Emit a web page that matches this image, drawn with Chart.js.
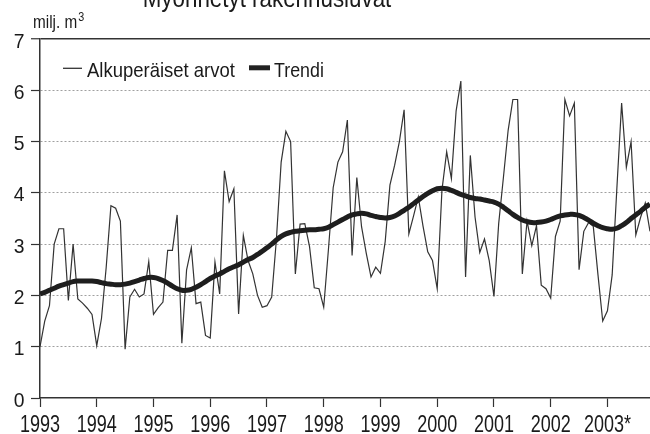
<!DOCTYPE html>
<html>
<head>
<meta charset="utf-8">
<script src="https://cdn.jsdelivr.net/npm/chart.js@4.4.1/dist/chart.umd.min.js"></script>
<style>
    html, body { margin: 0; padding: 0; background: #fff; }
    #wrap { width: 650px; height: 434px; }
</style>
</head>
<body>
<div id="wrap"><canvas id="lupaChart" width="650" height="434"></canvas></div>
<script>
const FONT = "'Liberation Sans', Arial, Helvetica, sans-serif";

// texts
const chartTitle = 'Myönnetyt rakennusluvat';
const unitLabel = 'milj. m';
const unitSup = '3';
const seriesNames = ['Alkuperäiset arvot', 'Trendi'];

// x axis: one label per year, data is monthly from Jan 1993
const yearLabels = ['1993', '1994', '1995', '1996', '1997', '1998', '1999', '2000', '2001', '2002', '2003*'];
const yTicks = [0, 1, 2, 3, 4, 5, 6, 7];

// monthly values, milj. m3
const originalValues = [
    1.0, 1.5, 1.8, 3.0, 3.3, 3.3, 1.9, 3.0, 1.93, 1.85, 1.75, 1.63,      // 1993
    1.02, 1.55, 2.55, 3.75, 3.7, 3.45, 0.95, 1.97, 2.12, 1.97, 2.03, 2.66, // 1994
    1.63, 1.76, 1.87, 2.88, 2.88, 3.57, 1.07, 2.5, 2.93, 1.84, 1.87, 1.22, // 1995
    1.17, 2.65, 2.03, 4.43, 3.83, 4.08, 1.64, 3.17, 2.68, 2.42, 2.0, 1.77, // 1996
    1.8, 1.97, 3.1, 4.6, 5.2, 5.0, 2.42, 3.39, 3.4, 2.95, 2.15, 2.13,      // 1997
    1.77, 2.9, 4.1, 4.6, 4.8, 5.42, 2.78, 4.3, 3.34, 2.82, 2.36, 2.55,     // 1998
    2.43, 3.05, 4.15, 4.54, 5.0, 5.62, 3.2, 3.55, 3.92, 3.35, 2.85, 2.68,  // 1999
    2.13, 4.05, 4.8, 4.28, 5.6, 6.18, 2.36, 4.73, 3.53, 2.84, 3.1, 2.68,   // 2000
    1.98, 3.4, 4.3, 5.22, 5.82, 5.82, 2.42, 3.45, 2.97, 3.36, 2.2, 2.13,   // 2001
    1.95, 3.15, 3.45, 5.82, 5.5, 5.75, 2.5, 3.25, 3.42, 3.35, 2.4, 1.5,    // 2002
    1.7, 2.4, 4.1, 5.75, 4.5, 5.0, 3.18, 3.52, 3.8, 3.25                   // 2003
];

const trendValues = [
    2.03, 2.06, 2.10, 2.14, 2.18, 2.21, 2.24, 2.27, 2.28, 2.28, 2.28, 2.28, // 1993
    2.27, 2.25, 2.23, 2.22, 2.21, 2.21, 2.22, 2.24, 2.27, 2.30, 2.33, 2.35, // 1994
    2.35, 2.33, 2.29, 2.24, 2.18, 2.13, 2.10, 2.10, 2.12, 2.16, 2.21, 2.27, // 1995
    2.33, 2.38, 2.42, 2.47, 2.52, 2.56, 2.60, 2.65, 2.70, 2.74, 2.80, 2.86, // 1996
    2.93, 3.00, 3.08, 3.15, 3.20, 3.23, 3.25, 3.26, 3.27, 3.28, 3.28, 3.29, // 1997
    3.30, 3.33, 3.38, 3.43, 3.48, 3.53, 3.57, 3.59, 3.60, 3.59, 3.56, 3.54, // 1998
    3.52, 3.51, 3.52, 3.55, 3.60, 3.66, 3.72, 3.79, 3.86, 3.93, 3.99, 4.04, // 1999
    4.08, 4.09, 4.08, 4.05, 4.01, 3.97, 3.94, 3.91, 3.89, 3.88, 3.86, 3.84, // 2000
    3.82, 3.78, 3.72, 3.65, 3.58, 3.52, 3.47, 3.44, 3.42, 3.42, 3.43, 3.45, // 2001
    3.48, 3.52, 3.55, 3.57, 3.58, 3.58, 3.56, 3.52, 3.47, 3.41, 3.36, 3.32, // 2002
    3.30, 3.29, 3.31, 3.36, 3.42, 3.50, 3.57, 3.64, 3.72, 3.78              // 2003
];

const toPoints = arr => arr.map((v, i) => ({x: i, y: v}));

// the print uses a narrow face, so squeeze the text sideways
function narrowText(ctx, text, x, y, sx, align) {
    ctx.save();
    ctx.translate(x, y);
    ctx.scale(sx, 1);
    ctx.textAlign = align;
    ctx.fillText(text, 0, 0);
    ctx.restore();
}

// title (cut at top), unit label, tick labels and the legend inside the plot
const overlayText = {
    id: 'overlayText',
    afterDraw(chart) {
        const ctx = chart.ctx;
        const xs = chart.scales.x;
        const ys = chart.scales.y;
        ctx.save();
        ctx.fillStyle = '#1a1a1a';
        ctx.textBaseline = 'alphabetic';

        ctx.font = '26px ' + FONT;
        narrowText(ctx, chartTitle, 267, 7, 0.86, 'center');

        ctx.font = '18px ' + FONT;
        narrowText(ctx, unitLabel, 33, 28, 0.85, 'left');
        const w = ctx.measureText(unitLabel).width * 0.85;
        ctx.font = '12px ' + FONT;
        narrowText(ctx, unitSup, 33 + w + 1, 21, 0.9, 'left');

        // tick labels
        ctx.font = '24px ' + FONT;
        yearLabels.forEach((lab, i) => {
            narrowText(ctx, lab, xs.getPixelForValue(i * 12), 432, 0.75, 'center');
        });
        ctx.font = '21px ' + FONT;
        yTicks.forEach(v => {
            narrowText(ctx, String(v), 24.5, ys.getPixelForValue(v) + 8.5, 0.92, 'right');
        });

        // legend
        ctx.strokeStyle = '#333';
        ctx.lineWidth = 1.3;
        ctx.beginPath();
        ctx.moveTo(63, 68.3);
        ctx.lineTo(82, 68.3);
        ctx.stroke();
        ctx.lineWidth = 5;
        ctx.strokeStyle = '#222';
        ctx.beginPath();
        ctx.moveTo(249, 67.8);
        ctx.lineTo(270, 67.8);
        ctx.stroke();

        ctx.font = '21px ' + FONT;
        narrowText(ctx, seriesNames[0], 87, 76.5, 0.88, 'left');
        narrowText(ctx, seriesNames[1], 274, 76.5, 0.85, 'left');
        ctx.restore();
    }
};

new Chart(document.getElementById('lupaChart'), {
    type: 'line',
    data: {
        datasets: [{
            label: seriesNames[0],
            data: toPoints(originalValues),
            borderColor: '#333',
            borderWidth: 1.2,
            pointRadius: 0,
            tension: 0,
            order: 2
        }, {
            label: seriesNames[1],
            data: toPoints(trendValues),
            borderColor: '#1e1e1e',
            borderWidth: 5,
            pointRadius: 0,
            tension: 0.4,
            order: 1
        }]
    },
    options: {
        responsive: false,
        animation: false,
        devicePixelRatio: 1,
        layout: {padding: {top: 39, right: 0, left: 0, bottom: 0}},
        plugins: {
            legend: {display: false},
            tooltip: {enabled: false}
        },
        scales: {
            x: {
                type: 'linear',
                min: 0,
                max: 129,
                afterBuildTicks: s => { s.ticks = yearLabels.map((_, i) => ({value: i * 12})); },
                afterFit: s => { s.height = 36; },
                ticks: {display: false, autoSkip: false, maxRotation: 0},
                grid: {drawOnChartArea: false, tickLength: 9, tickColor: '#333', tickWidth: 1.2},
                border: {color: '#333', width: 1.5}
            },
            y: {
                min: 0,
                max: 7,
                afterBuildTicks: s => { s.ticks = yTicks.map(v => ({value: v})); },
                afterFit: s => { s.width = 40; },
                ticks: {display: false},
                grid: {
                    color: c => c.tick.value === 7 ? '#333' : (c.tick.value === 0 ? 'rgba(0,0,0,0)' : '#a0a0a0'),
                    lineWidth: c => c.tick.value === 7 ? 1.5 : 1,
                    tickLength: 9,
                    tickColor: '#333',
                    tickWidth: 1.2
                },
                border: {
                    color: '#333',
                    width: 1.5,
                    dash: c => (c.tick && c.tick.value === 7) ? [] : [2, 2]
                }
            }
        }
    },
    plugins: [overlayText]
});
</script>
</body>
</html>
